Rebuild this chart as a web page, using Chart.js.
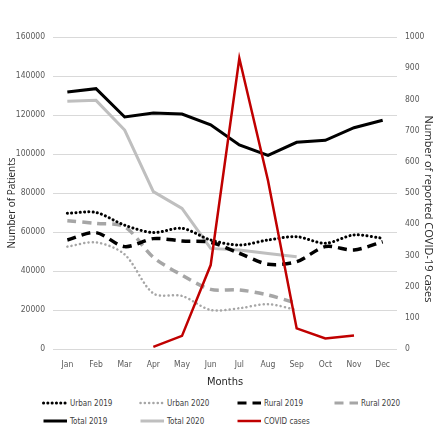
<!DOCTYPE html>
<html>
<head>
<meta charset="utf-8">
<script src="https://cdn.jsdelivr.net/npm/chart.js@4.4.1/dist/chart.umd.min.js"></script>
<style>
  body { margin: 0; background: #fff; }
  #wrap { position: relative; width: 440px; height: 440px; overflow: hidden; }
  #box { position: absolute; left: 0; top: 0; width: 440px; height: 392px; }
  #legend { position: absolute; left: 42px; top: 397px; width: 400px;
    font-family: "Liberation Sans Narrow", "DejaVu Sans Condensed", sans-serif;
    font-size: 8px; color: #404040; }
  .item { position: absolute; display: flex; align-items: center; height: 12px; white-space: nowrap; }
  .item svg { margin-right: 2px; }
</style>
</head>
<body>
<div id="wrap">
  <div id="box"><canvas id="chart"></canvas></div>
  <div id="legend"></div>
</div>
<script>
// months and patient counts (null = no data)
const months = ['Jan', 'Feb', 'Mar', 'Apr', 'May', 'Jun', 'Jul', 'Aug', 'Sep', 'Oct', 'Nov', 'Dec'];
const urban2019 = [69600, 70000, 63500, 59700, 61900, 55900, 53300, 55900, 57600, 54200, 58500, 56800];
const urban2020 = [52500, 54700, 48500, 28500, 27200, 20000, 20900, 23000, 20000, null, null, null];
const rural2019 = [55900, 59700, 52500, 56600, 55400, 54700, 49100, 43500, 44800, 52500, 50800, 55000];
const rural2020 = [65800, 64400, 62700, 47000, 37900, 30600, 30300, 27700, 23400, null, null, null];
const total2019 = [131800, 133500, 119000, 121000, 120500, 115000, 104600, 99300, 106000, 107000, 113500, 117300];
const total2020 = [127000, 127500, 112300, 80700, 72100, 51600, 50800, 49000, 47300, null, null, null];
const covidCases = [null, null, null, 7, 42, 269, 932, 540, 66, 34, 43, null];

const patientTicks = [0, 20000, 40000, 60000, 80000, 100000, 120000, 140000, 160000];
const covidTicks = [0, 100, 200, 300, 400, 500, 600, 700, 800, 900, 1000];

const tickFont = { family: '"Liberation Sans Narrow", "DejaVu Sans Condensed", sans-serif', size: 8.5 };
const dots = [0.1, 4.2];
const dashes = [9, 6];

const series = [
  { label: 'Urban 2019', data: urban2019, borderColor: '#000000', borderWidth: 3, borderDash: dots, borderCapStyle: 'round', tension: 0.3, col: 0, row: 0 },
  { label: 'Urban 2020', data: urban2020, borderColor: '#a6a6a6', borderWidth: 2.5, borderDash: dots, borderCapStyle: 'round', tension: 0.3, col: 1, row: 0 },
  { label: 'Rural 2019', data: rural2019, borderColor: '#000000', borderWidth: 3.5, borderDash: dashes, tension: 0.3, col: 2, row: 0 },
  { label: 'Rural 2020', data: rural2020, borderColor: '#a6a6a6', borderWidth: 3.5, borderDash: dashes, tension: 0.3, col: 3, row: 0 },
  { label: 'Total 2019', data: total2019, borderColor: '#000000', borderWidth: 3, tension: 0, col: 0, row: 1 },
  { label: 'Total 2020', data: total2020, borderColor: '#bfbfbf', borderWidth: 3, tension: 0, col: 1, row: 1 },
  { label: 'COVID cases', data: covidCases, borderColor: '#c00000', borderWidth: 2.5, tension: 0, yAxisID: 'y1', order: -1, col: 2, row: 1 }
];

// axis titles drawn by hand so they sit where the original has them
const axisTitles = {
  id: 'axisTitles',
  afterDraw(chart) {
    const { ctx, chartArea } = chart;
    const mid = (chartArea.top + chartArea.bottom) / 2;
    ctx.save();
    ctx.fillStyle = '#262626';
    ctx.textAlign = 'center';
    ctx.textBaseline = 'middle';
    ctx.font = '10px "Open Sans", sans-serif';
    ctx.translate(12, mid + 10);
    ctx.rotate(-Math.PI / 2);
    ctx.fillText('Number of Patients', 0, 0);
    ctx.restore();
    ctx.save();
    ctx.fillStyle = '#262626';
    ctx.textAlign = 'center';
    ctx.textBaseline = 'middle';
    ctx.font = '11px "Open Sans", sans-serif';
    ctx.translate(428, mid + 16);
    ctx.rotate(Math.PI / 2);
    ctx.fillText('Number of reported COVID-19 cases', 0, 0);
    ctx.restore();
  }
};

new Chart(document.getElementById('chart'), {
  type: 'line',
  data: {
    labels: months,
    datasets: series.map(s => ({
      label: s.label,
      data: s.data,
      borderColor: s.borderColor,
      backgroundColor: s.borderColor,
      borderWidth: s.borderWidth,
      borderDash: s.borderDash || [],
      borderCapStyle: s.borderCapStyle || 'butt',
      tension: s.tension,
      yAxisID: s.yAxisID || 'y',
      order: s.order || 0,
      pointRadius: 0,
      spanGaps: false
    }))
  },
  options: {
    responsive: true,
    maintainAspectRatio: false,
    animation: false,
    layout: { padding: { top: 37, bottom: 0, left: 0, right: 0 } },
    plugins: { legend: { display: false }, tooltip: { enabled: false } },
    scales: {
      x: {
        offset: true,
        grid: { display: false },
        border: { display: false },
        ticks: { color: '#595959', font: tickFont, padding: 3, maxRotation: 0 },
        title: { display: true, text: 'Months', color: '#262626', font: { family: tickFont.family, size: 11 }, padding: { top: 2, bottom: 3 } },
        afterFit(scale) { scale.height = 43; }
      },
      y: {
        position: 'left',
        min: 0,
        max: 160000,
        afterBuildTicks(scale) { scale.ticks = patientTicks.map(v => ({ value: v })); },
        grid: { color: '#d9d9d9', lineWidth: 1, drawTicks: false },
        border: { display: false },
        ticks: { color: '#595959', font: tickFont, padding: 8, callback: v => String(v) },
        afterFit(scale) { scale.width = 53; }
      },
      y1: {
        position: 'right',
        min: 0,
        max: 1000,
        afterBuildTicks(scale) { scale.ticks = covidTicks.map(v => ({ value: v })); },
        grid: { display: false, drawTicks: false },
        border: { display: false },
        ticks: { color: '#595959', font: tickFont, padding: 8, callback: v => String(v) },
        afterFit(scale) { scale.width = 43; }
      }
    }
  },
  plugins: [axisTitles]
});

// legend laid out in Excel-style columns
const legend = document.getElementById('legend');
series.forEach(s => {
  const item = document.createElement('div');
  item.className = 'item';
  item.style.left = (s.col * 97) + 'px';
  item.style.top = (s.row * 18) + 'px';
  const dash = s.borderDash ? s.borderDash.join(' ') : 'none';
  const cap = s.borderCapStyle || 'butt';
  const w = Math.min(s.borderWidth, 3);
  item.innerHTML = '<svg width="26" height="6"><line x1="1.5" y1="3" x2="25" y2="3" stroke="' + s.borderColor +
    '" stroke-width="' + w + '" stroke-dasharray="' + dash + '" stroke-linecap="' + cap + '"/></svg>' +
    '<span>' + s.label + '</span>';
  legend.appendChild(item);
});
</script>
</body>
</html>
